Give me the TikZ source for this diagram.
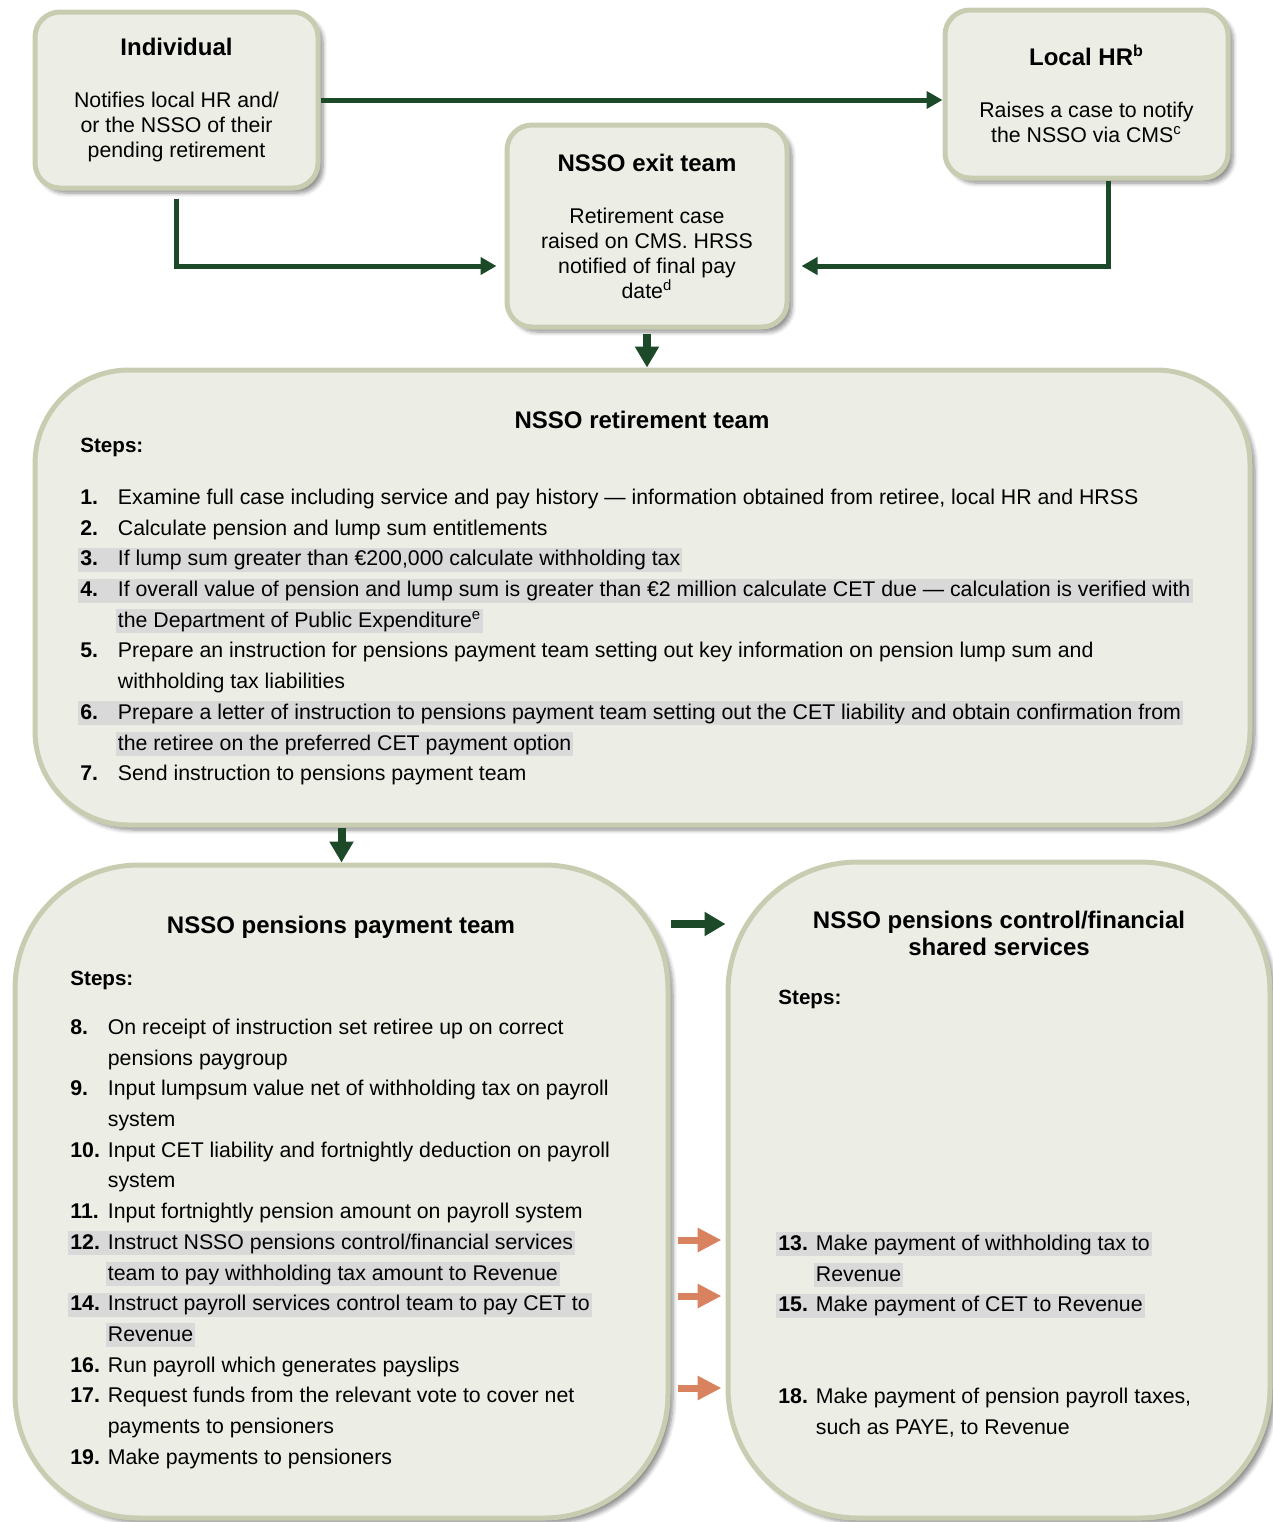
\documentclass[tikz,border=0pt]{standalone}
\usepackage{fontspec}
\setmainfont{Liberation Sans}
\usetikzlibrary{arrows.meta,shadows.blur}

\definecolor{boxfill}{RGB}{236,237,228}
\definecolor{boxline}{RGB}{200,205,178}
\definecolor{flowgreen}{RGB}{28,74,40}
\definecolor{taxorange}{RGB}{216,130,96}
\definecolor{hlgray}{RGB}{217,217,217}

% numbered steps, grey marked lines
\newlength\numw
\setlength\numw{18.75pt}
\setlength\fboxsep{0pt}
\newcommand\hlstrut{\rule[-3pt]{0pt}{12pt}}
\newcommand\hlbox[1]{\hspace*{-1pt}\colorbox{hlgray}{\hlstrut\hspace{1pt}#1\hspace{1pt}}}
\newcommand\stepline[2]{\hlstrut\makebox[\numw][l]{\bfseries #1}#2}
\newcommand\stepmore[1]{\hlstrut\hspace*{\numw}#1}
\newcommand\hlstep[2]{\hlbox{\makebox[\numw][l]{\bfseries #1}#2}}
\newcommand\hlmore[1]{\hspace*{\numw}\hlbox{#1}}
\newcommand\boxtitle{\bfseries\fontsize{12}{12.5}\selectfont}

\begin{document}
\begin{tikzpicture}[x=0.5pt, y=-0.5pt,
  box/.style={draw=boxline, fill=boxfill, line width=2.5pt, rounded corners=12.5pt,
    blur shadow={shadow xshift=2.5pt, shadow yshift=-2.5pt, shadow blur steps=6, shadow opacity=45},
    align=center, inner sep=0pt, font=\fontsize{10.65}{12.5}\selectfont},
  teamtitle/.style={font=\bfseries\fontsize{12}{13.5}\selectfont, align=center, inner sep=0pt},
  heading/.style={font=\bfseries\fontsize{10.3}{12}\selectfont, anchor=base west, inner sep=0pt},
  steps/.style={align=left, anchor=north west, inner sep=0pt, font=\fontsize{10.65}{15.35}\selectfont},
  flow/.style={draw=flowgreen, line width=2.5pt, -{Triangle[length=8pt,width=8.5pt]}},
  push/.style={draw=flowgreen, line width=4pt, -{Triangle[length=10.5pt,width=11.5pt]}},
  tax/.style={draw=taxorange, line width=3.5pt, -{Triangle[length=12pt,width=11.5pt]}}]
\useasboundingbox (0,0) rectangle (1273,1522);

% top row
\node[box, minimum width=141.5pt, minimum height=88pt] (ind) at (176.5,100)
  {{\boxtitle Individual}\\[13.5pt]
   Notifies local HR and/\\or the NSSO of their\\pending retirement};
\node[box, minimum width=141.5pt, minimum height=84pt] (hr) at (1086.5,94)
  {{\boxtitle Local HR\textsuperscript{b}}\\[13.5pt]
   Raises a case to notify\\the NSSO via CMS\textsuperscript{c}};
\node[box, minimum width=140pt, minimum height=101pt] (exit) at (647,226)
  {{\boxtitle NSSO exit team}\\[13.5pt]
   Retirement case\\raised on CMS. HRSS\\notified of final pay\\date\textsuperscript{d}};

% teams
\node[box, rounded corners=47pt, minimum width=607.5pt, minimum height=227.5pt] (ret) at (642.5,597.5) {};
\node[box, rounded corners=62pt, minimum width=326.5pt, minimum height=326.5pt] (pay) at (341.5,1191.5) {};
\node[box, rounded corners=65pt, minimum width=271pt, minimum height=328pt] (ctl) at (999,1190) {};

\node[teamtitle, anchor=base] (rettitle) at (642,428) {NSSO retirement team};
\node[heading] (retsteps) at (80,452) {Steps:};
\node[steps] (retlist) at (80,486) {%
  \stepline{1.}{Examine full case including service and pay history --- information obtained from retiree, local HR and HRSS}\\
  \stepline{2.}{Calculate pension and lump sum entitlements}\\
  \hlstep{3.}{If lump sum greater than €200,000 calculate withholding tax}\\
  \hlstep{4.}{If overall value of pension and lump sum is greater than €2 million calculate CET due --- calculation is verified with}\\
  \hlmore{the Department of Public Expenditure\textsuperscript{e}}\\
  \stepline{5.}{Prepare an instruction for pensions payment team setting out key information on pension lump sum and}\\
  \stepmore{withholding tax liabilities}\\
  \hlstep{6.}{Prepare a letter of instruction to pensions payment team setting out the CET liability and obtain confirmation from}\\
  \hlmore{the retiree on the preferred CET payment option}\\
  \stepline{7.}{Send instruction to pensions payment team}};

\node[teamtitle, anchor=base] (paytitle) at (341,933) {NSSO pensions payment team};
\node[heading] (paysteps) at (70,985) {Steps:};
\node[steps] (paylist) at (70,1016) {%
  \stepline{8.}{On receipt of instruction set retiree up on correct}\\
  \stepmore{pensions paygroup}\\
  \stepline{9.}{Input lumpsum value net of withholding tax on payroll}\\
  \stepmore{system}\\
  \stepline{10.}{Input CET liability and fortnightly deduction on payroll}\\
  \stepmore{system}\\
  \stepline{11.}{Input fortnightly pension amount on payroll system}\\
  \hlstep{12.}{Instruct NSSO pensions control/financial services}\\
  \hlmore{team to pay withholding tax amount to Revenue}\\
  \hlstep{14.}{Instruct payroll services control team to pay CET to}\\
  \hlmore{Revenue}\\
  \stepline{16.}{Run payroll which generates payslips}\\
  \stepline{17.}{Request funds from the relevant vote to cover net}\\
  \stepmore{payments to pensioners}\\
  \stepline{19.}{Make payments to pensioners}};

\node[teamtitle] (ctltitle) at (999,933) {NSSO pensions control/financial\\shared services};
\node[heading] (ctlsteps) at (778,1004) {Steps:};
\node[steps] (ctllist) at (778,1232) {%
  \hlstep{13.}{Make payment of withholding tax to}\\
  \hlmore{Revenue}\\
  \hlstep{15.}{Make payment of CET to Revenue}\\[30.7pt]
  \stepline{18.}{Make payment of pension payroll taxes,}\\
  \stepmore{such as PAYE, to Revenue}};

% connectors
\draw[flow] (ind.east) -- (ind.east -| hr.west);
\draw[flow, shorten <=4pt, shorten >=4pt] (ind.south) |- (exit.west |- 0,266);
\draw[flow, shorten >=6pt] ([xshift=11pt]hr.south) |- (exit.east |- 0,266);
\draw[push, shorten <=2pt] (exit.south) -- (exit.south |- ret.north);
\draw[push] (pay.north |- ret.south) -- (pay.north);
\draw[push] (pay.east |- 0,924) -- (ctl.west |- 0,924);
\foreach \y in {1240,1296,1388}
  \draw[tax, shorten <=3.5pt, shorten >=2pt] (pay.east |- 0,\y) -- (ctl.west |- 0,\y);
\end{tikzpicture}
\end{document}
